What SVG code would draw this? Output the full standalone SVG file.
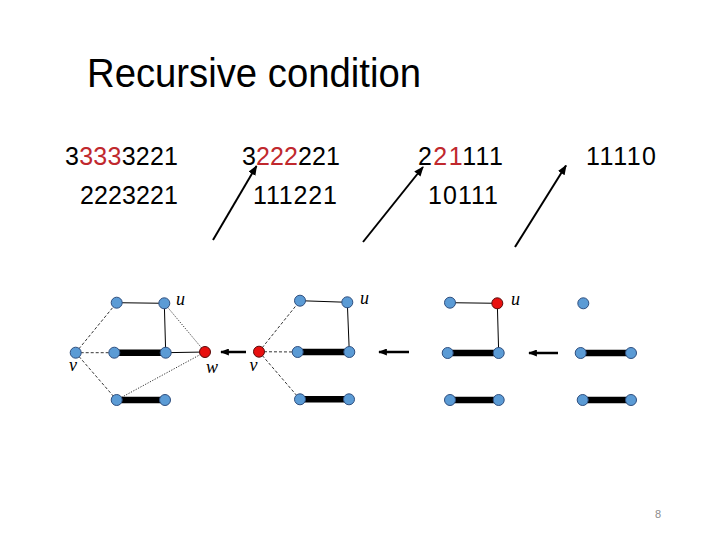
<svg xmlns="http://www.w3.org/2000/svg" width="720" height="540" viewBox="0 0 720 540">
<style>
.title{font-family:"Liberation Sans","Open Sans",sans-serif;font-size:40px;fill:#000}
.num{font-family:"Liberation Sans","Open Sans",sans-serif;font-size:25px;fill:#000}
.red{fill:#c0282d}
.lbl{font-family:"Liberation Serif","DejaVu Serif",serif;font-style:italic;font-size:18px;fill:#000}
.pg{font-family:"Liberation Sans",sans-serif;font-size:11px;fill:#8c8c8c}
.nb{fill:#5b9bd5;stroke:#2f4f7f;stroke-width:1}
.nr{fill:#e8100f;stroke:#5a0a0a;stroke-width:1}
.thin{stroke:#000;stroke-width:1;fill:none}
.thick{stroke:#000;stroke-width:6.5;fill:none}
.dash{stroke:#000;stroke-width:0.8;stroke-dasharray:3 2;fill:none}
.dot{stroke:#000;stroke-width:0.8;stroke-dasharray:1.2 1.5;fill:none}
.arr{stroke:#000;stroke-width:2;fill:none;marker-end:url(#ah)}
.harr{stroke:#000;stroke-width:2.5;fill:none;marker-end:url(#ah2)}
</style>
<defs>
<marker id="ah" viewBox="0 0 10 8" refX="9" refY="4" markerWidth="10" markerHeight="8" markerUnits="userSpaceOnUse" orient="auto"><path d="M0,0 L10,4 L0,8 z" fill="#000"/></marker>
<marker id="ah2" viewBox="0 0 10 8" refX="9" refY="4" markerWidth="9" markerHeight="7" markerUnits="userSpaceOnUse" orient="auto"><path d="M0,0 L10,4 L0,8 z" fill="#000"/></marker>
</defs>
<rect width="720" height="540" fill="#fff"/>
<text class="title" x="87" y="87" textLength="334" lengthAdjust="spacingAndGlyphs">Recursive condition</text>

<g id="texts">
<text class="num" x="65" y="165" textLength="113">3<tspan class="red">333</tspan>3221</text>
<text class="num" x="80" y="204" textLength="98">2223221</text>
<text class="num" x="242" y="165" textLength="98">3<tspan class="red">222</tspan>221</text>
<text class="num" x="253" y="204" textLength="84">111221</text>
<text class="num" x="418" y="165" textLength="85">2<tspan class="red">21</tspan>111</text>
<text class="num" x="428" y="204" textLength="70">10111</text>
<text class="num" x="586" y="165" textLength="70">11110</text>
<text class="pg" x="655" y="518">8</text>
</g>

<g id="connectors">
<line class="arr" x1="213" y1="240" x2="256.5" y2="166"/>
<line class="arr" x1="363" y1="242" x2="423" y2="167"/>
<line class="arr" x1="515" y1="247" x2="566" y2="165.5"/>
<line class="harr" x1="246" y1="352" x2="221" y2="352"/>
<line class="harr" x1="409" y1="352" x2="379" y2="352"/>
<line class="harr" x1="558" y1="353" x2="529" y2="353"/>
<!-- graph 1 -->
<line class="thin" x1="116.7" y1="302.7" x2="164.3" y2="303.3"/>
<line class="thin" x1="164.3" y1="303.3" x2="165.7" y2="352.7"/>
<line class="thick" x1="114.3" y1="352.7" x2="165.7" y2="352.7"/>
<line class="thin" x1="165.7" y1="352.7" x2="205" y2="352"/>
<line class="dot" x1="164.3" y1="303.3" x2="205" y2="352"/>
<line class="dash" x1="75.7" y1="352.7" x2="116.7" y2="302.7"/>
<line class="dash" x1="75.7" y1="352.7" x2="114.3" y2="352.7"/>
<line class="dash" x1="75.7" y1="352.7" x2="116.7" y2="400"/>
<line class="dot" x1="116.7" y1="400" x2="205" y2="352"/>
<line class="thick" x1="116.7" y1="400" x2="165" y2="400"/>
<!-- graph 2 -->
<line class="thin" x1="300" y1="300.7" x2="347.3" y2="302.3"/>
<line class="thin" x1="347.3" y1="302.3" x2="349.3" y2="352"/>
<line class="thick" x1="297.7" y1="352" x2="349.3" y2="352"/>
<line class="dash" x1="259" y1="351.7" x2="300" y2="300.7"/>
<line class="dash" x1="259" y1="351.7" x2="297.7" y2="352"/>
<line class="dash" x1="259" y1="351.7" x2="300" y2="399.3"/>
<line class="thick" x1="300" y1="399.3" x2="349" y2="399.3"/>
<!-- graph 3 -->
<line class="thin" x1="450" y1="302.7" x2="497.3" y2="303.3"/>
<line class="thin" x1="497.3" y1="303.3" x2="498.7" y2="353"/>
<line class="thick" x1="447.7" y1="353" x2="498.7" y2="353"/>
<line class="thick" x1="450" y1="400" x2="498.7" y2="400"/>
<!-- graph 4 -->
<line class="thick" x1="580.7" y1="353" x2="631" y2="353"/>
<line class="thick" x1="582.7" y1="400" x2="631" y2="400"/>
</g>

<g id="g1">
<g id="g1-a"><circle class="nb" cx="116.7" cy="302.7" r="5.5"/></g>
<g id="g1-u"><circle class="nb" cx="164.3" cy="303.3" r="5.5"/><text class="lbl" x="176" y="305">u</text></g>
<g id="g1-v"><circle class="nb" cx="75.7" cy="352.7" r="5.5"/><text class="lbl" x="69" y="371">v</text></g>
<g id="g1-b"><circle class="nb" cx="114.3" cy="352.7" r="5.5"/></g>
<g id="g1-c"><circle class="nb" cx="165.7" cy="352.7" r="5.5"/></g>
<g id="g1-w"><circle class="nr" cx="205" cy="352" r="5.5"/><text class="lbl" x="206" y="373">w</text></g>
<g id="g1-d"><circle class="nb" cx="116.7" cy="400" r="5.5"/></g>
<g id="g1-e"><circle class="nb" cx="165" cy="400" r="5.5"/></g>
</g>
<g id="g2">
<g id="g2-v"><circle class="nr" cx="259" cy="351.7" r="5.5"/><text class="lbl" x="249.5" y="371">v</text></g>
<g id="g2-a"><circle class="nb" cx="300" cy="300.7" r="5.5"/></g>
<g id="g2-u"><circle class="nb" cx="347.3" cy="302.3" r="5.5"/><text class="lbl" x="360" y="304">u</text></g>
<g id="g2-b"><circle class="nb" cx="297.7" cy="352" r="5.5"/></g>
<g id="g2-c"><circle class="nb" cx="349.3" cy="352" r="5.5"/></g>
<g id="g2-d"><circle class="nb" cx="300" cy="399.3" r="5.5"/></g>
<g id="g2-e"><circle class="nb" cx="349" cy="399.3" r="5.5"/></g>
</g>
<g id="g3">
<g id="g3-a"><circle class="nb" cx="450" cy="302.7" r="5.5"/></g>
<g id="g3-u"><circle class="nr" cx="497.3" cy="303.3" r="5.5"/><text class="lbl" x="511" y="305">u</text></g>
<g id="g3-b"><circle class="nb" cx="447.7" cy="353" r="5.5"/></g>
<g id="g3-c"><circle class="nb" cx="498.7" cy="353" r="5.5"/></g>
<g id="g3-d"><circle class="nb" cx="450" cy="400" r="5.5"/></g>
<g id="g3-e"><circle class="nb" cx="498.7" cy="400" r="5.5"/></g>
</g>
<g id="g4">
<g id="g4-a"><circle class="nb" cx="583.3" cy="303.3" r="5.5"/></g>
<g id="g4-b"><circle class="nb" cx="580.7" cy="353" r="5.5"/></g>
<g id="g4-c"><circle class="nb" cx="631" cy="353" r="5.5"/></g>
<g id="g4-d"><circle class="nb" cx="582.7" cy="400" r="5.5"/></g>
<g id="g4-e"><circle class="nb" cx="631" cy="400" r="5.5"/></g>
</g>
</svg>
